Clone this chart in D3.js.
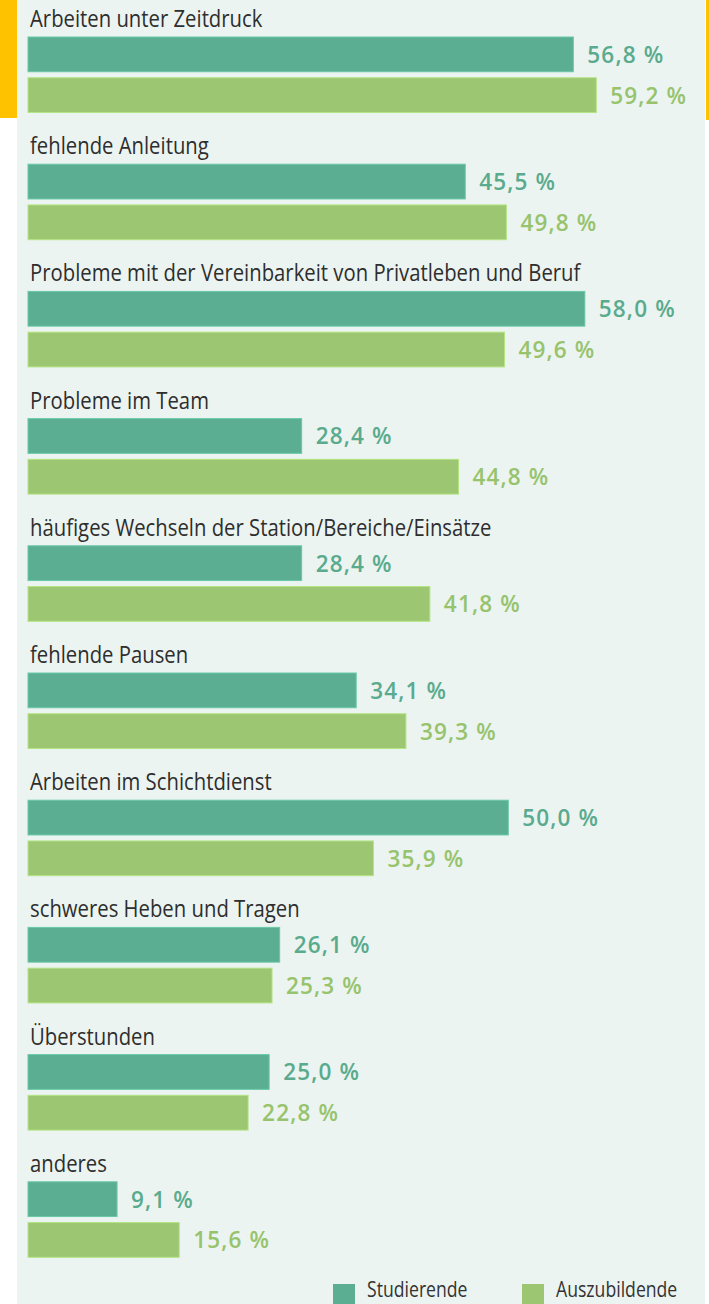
<!DOCTYPE html>
<html><head><meta charset="utf-8">
<script src="https://cdn.jsdelivr.net/npm/d3@7"></script>
<style>
html,body{margin:0;padding:0;background:#fff;}
svg{display:block;}
text{font-family:"Open Sans",sans-serif;}
</style></head><body>
<svg id="c" width="709" height="1304"></svg>
<script>
const categories = ["Arbeiten unter Zeitdruck","fehlende Anleitung","Probleme mit der Vereinbarkeit von Privatleben und Beruf","Probleme im Team","häufiges Wechseln der Station/Bereiche/Einsätze","fehlende Pausen","Arbeiten im Schichtdienst","schweres Heben und Tragen","Überstunden","anderes"];
const studierende = [56.8,45.5,58.0,28.4,28.4,34.1,50.0,26.1,25.0,9.1];
const auszubildende = [59.2,49.8,49.6,44.8,41.8,39.3,35.9,25.3,22.8,15.6];
const seriesNames = ["Studierende","Auszubildende"];
const barColors = ["#5bae91","#9cc672"];
const textColors = ["#5aab8e","#97c36d"];

const svg = d3.select("#c");
svg.append("rect").attr("x",0).attr("y",0).attr("width",17).attr("height",118).attr("fill","#ffc200");
svg.append("rect").attr("x",706).attr("y",0).attr("width",3).attr("height",120).attr("fill","#ffc200");
svg.append("rect").attr("x",17).attr("y",0).attr("width",688).attr("height",1304).attr("fill","#ecf4f1");

const x = d3.scaleLinear().domain([0,60]).range([30,30+60*9.566]);
const y = d3.scaleBand().domain(categories).range([10,10+127.2*categories.length]).paddingInner(0);
const sub = d3.scaleBand().domain(seriesNames).range([27,102.5]).paddingInner(6/40.75);

const data = categories.map((c,i)=>({cat:c, vals:[studierende[i],auszubildende[i]]}));
const g = svg.selectAll("g.grp").data(data).join("g").attr("class","grp")
  .attr("transform",d=>`translate(0,${y(d.cat)})`);

g.append("text").attr("transform","translate(30,17) scale(0.846,1)")
  .attr("font-size",24).attr("fill","#2e2e2e").text(d=>d.cat);

g.each(function(d){
  const gg = d3.select(this);
  d.vals.forEach((v,k)=>{
    const yy = sub(seriesNames[k]);
    gg.append("rect").attr("x",x(0)-2).attr("y",yy)
      .attr("width",x(v)-x(0)+2).attr("height",sub.bandwidth())
      .attr("fill",barColors[k]).attr("stroke",d3.color(barColors[k]).brighter(0.4)).attr("stroke-width",1);
    gg.append("text").attr("transform",`translate(${x(v)+14},${yy+sub.bandwidth()/2+8.5}) scale(0.94,1)`)
      .attr("font-size",24).attr("font-weight",600).attr("letter-spacing",1.2).attr("fill",textColors[k])
      .text(d3.format(".1f")(v).replace(".",",")+" %");
  });
});

const leg = svg.append("g");
const lx = [333,522];
seriesNames.forEach((s,k)=>{
  leg.append("rect").attr("x",lx[k]).attr("y",1284).attr("width",22).attr("height",22).attr("fill",barColors[k]);
  leg.append("text").attr("transform",`translate(${lx[k]+34},1297) scale(0.84,1)`)
    .attr("font-size",21).attr("fill","#333").text(s);
});
</script></body></html>
